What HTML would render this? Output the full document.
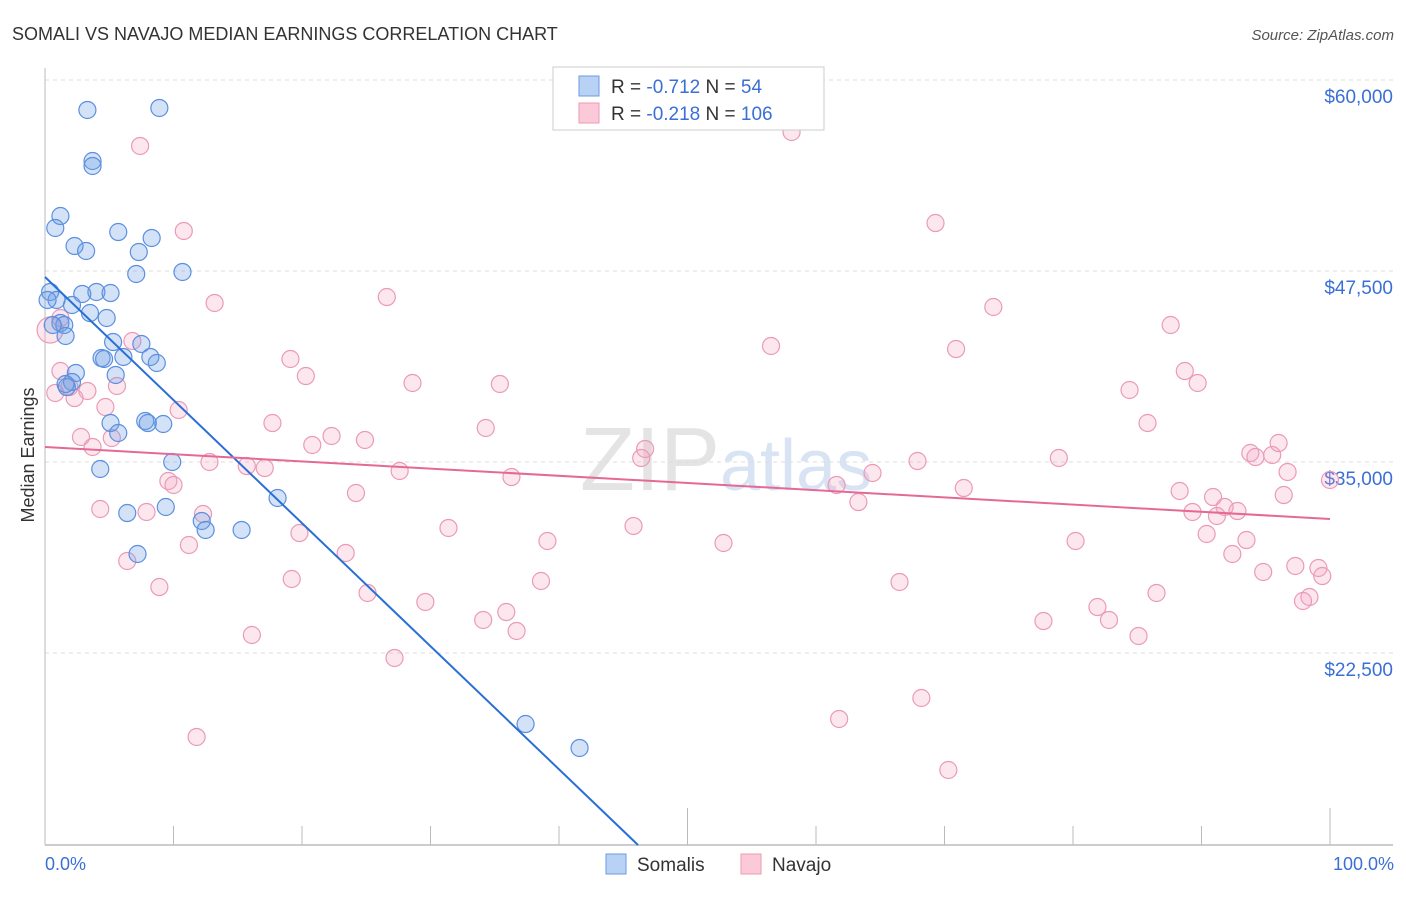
<!DOCTYPE html>
<html><head><meta charset="utf-8"><style>
body{margin:0;background:#fff;font-family:"Liberation Sans",sans-serif;}
svg text{font-family:"Liberation Sans",sans-serif;}
</style></head><body>
<svg id="c" width="1406" height="892" xmlns="http://www.w3.org/2000/svg">
<text x="12" y="40" font-size="18" fill="#333">SOMALI VS NAVAJO MEDIAN EARNINGS CORRELATION CHART</text>
<text x="1394" y="40" font-size="15" fill="#555" font-style="italic" text-anchor="end">Source: ZipAtlas.com</text>
<text x="720" y="490" font-size="90" fill="#e4e4e4" text-anchor="end" font-family="Liberation Serif">ZIP</text>
<text x="720" y="490" font-size="72" fill="#d8e3f3">atlas</text>
<g id="grid"></g><g id="axes"></g><g id="pts"></g><g id="trend"></g>
<text transform="translate(34,455) rotate(-90)" font-size="18" fill="#333" text-anchor="middle">Median Earnings</text>
<text x="45" y="870" font-size="18" fill="#3a6fd6">0.0%</text>
<text x="1394" y="870" font-size="18" fill="#3a6fd6" text-anchor="end">100.0%</text>
<g>
<rect x="553" y="67" width="271" height="63" fill="#fff" stroke="#ccc"/>
<rect x="579" y="76" width="20" height="20" fill="#b8d2f5" stroke="#6b9be0"/>
<rect x="579" y="103" width="20" height="20" fill="#fbc9d8" stroke="#ee9ab5"/>
<text x="611" y="93" font-size="19" fill="#333">R = <tspan fill="#3a6fd6">-0.712</tspan>   N = <tspan fill="#3a6fd6">  54</tspan></text>
<text x="611" y="120" font-size="19" fill="#333">R = <tspan fill="#3a6fd6">-0.218</tspan>   N = <tspan fill="#3a6fd6">106</tspan></text>
</g>
<g>
<rect x="606" y="854" width="20" height="20" fill="#b8d2f5" stroke="#6b9be0"/>
<text x="637" y="871" font-size="19" fill="#333">Somalis</text>
<rect x="741" y="854" width="20" height="20" fill="#fbc9d8" stroke="#ee9ab5"/>
<text x="772" y="871" font-size="19" fill="#333">Navajo</text>
</g>
</svg>
<script>
const yTicks=[60000,47500,35000,22500];
const yTickLabels=["$60,000","$47,500","$35,000","$22,500"];
const xTicks=[0,10,20,30,40,50,60,70,80,90,100];
const somaliPx=[[87,110],[160,108],[93,161],[92,166],[60,216],[55,228],[118,232],[152,238],[74,246],[86,251],[139,252],[136,274],[182,272],[50,292],[97,292],[82,294],[110,293],[57,300],[72,305],[90,313],[107,318],[60,323],[64,325],[66,336],[113,342],[142,344],[102,358],[123,357],[150,357],[104,359],[157,363],[76,373],[116,375],[72,382],[67,387],[110,423],[145,421],[163,424],[148,423],[118,433],[100,469],[172,462],[127,513],[166,507],[278,498],[202,521],[205,530],[241,530],[138,554],[526,724],[580,748],[66,384],[48,300],[53,325]];
const navajoPx=[[140,146],[792,132],[936,223],[184,231],[215,303],[993,307],[387,297],[1171,325],[956,349],[771,346],[50,330],[290,359],[306,376],[413,383],[500,384],[1185,371],[1198,383],[1130,390],[60,371],[55,393],[87,391],[117,386],[70,387],[75,398],[105,407],[178,410],[132,341],[60,318],[1148,423],[273,423],[486,428],[81,437],[93,447],[112,438],[312,445],[331,436],[365,440],[1250,453],[1255,457],[1272,455],[1278,443],[1288,472],[645,449],[641,458],[917,461],[873,473],[247,466],[265,468],[209,462],[400,471],[511,477],[837,485],[859,502],[964,488],[356,493],[1059,458],[1180,491],[1330,480],[1213,497],[1225,507],[1284,495],[1238,511],[1192,512],[1217,516],[168,481],[173,485],[100,509],[147,512],[203,514],[633,526],[449,528],[299,533],[1206,534],[1246,540],[1075,541],[548,541],[724,543],[189,545],[346,553],[1232,554],[127,561],[1295,566],[1318,568],[1322,576],[1263,572],[159,587],[292,579],[541,581],[900,582],[368,593],[1156,593],[425,602],[1310,597],[1303,601],[506,612],[1098,607],[483,620],[1109,620],[1044,621],[516,631],[1138,636],[252,635],[395,658],[921,698],[839,719],[197,737],[948,770]];
// convert reading positions to data values (percent, dollars)
const somaliX=somaliPx.map(p=>+((p[0]-45)/12.85).toFixed(1));
const somaliY=somaliPx.map(p=>Math.round(60000-(p[1]-80)*12500/191));
const navajoX=navajoPx.map(p=>+((p[0]-45)/12.85).toFixed(1));
const navajoY=navajoPx.map(p=>Math.round(60000-(p[1]-80)*12500/191));
const somaliTrend=[[0,47108],[46.15,9934]];
const navajoTrend=[[0,35982],[100,31270]];

const X=v=>45+v*12.85;
const Y=v=>80+(60000-v)*191/12500;
const NS="http://www.w3.org/2000/svg";
function mk(tag,attrs,parent){const e=document.createElementNS(NS,tag);for(const k in attrs)e.setAttribute(k,attrs[k]);document.getElementById(parent).appendChild(e);return e;}
yTicks.forEach((t,i)=>{
 const l=mk('line',{x1:45,x2:1393,y1:Y(t),y2:Y(t),stroke:'#ddd','stroke-dasharray':'4,4'},'grid');
 
 
 const tx=mk('text',{x:1393,y:Y(t)+23,'font-size':19,fill:'#3a6fd6','text-anchor':'end'},'grid');
 tx.textContent=yTickLabels[i];
 
 
});
const ax=mk('line',{x1:45,x2:1393,y1:845,y2:845,stroke:'#bbb','stroke-width':1.5},'axes');


const ay=mk('line',{x1:45,x2:45,y1:68,y2:845,stroke:'#bbb'},'axes');


xTicks.forEach(t=>{
 const tall=(t===50||t===100);
 const l=mk('line',{x1:X(t),x2:X(t),y1:tall?808:826,y2:845,stroke:'#bbb'},'axes');
 
 
});
navajoX.forEach((x,i)=>{
 const c=mk('circle',{cx:X(x),cy:Y(navajoY[i]),r:(i===10?13:8.5),fill:'rgba(245,160,190,0.25)',stroke:'#eb9ab6','stroke-width':1.2},'pts');
 
 
});
somaliX.forEach((x,i)=>{
 const c=mk('circle',{cx:X(x),cy:Y(somaliY[i]),r:8.5,fill:'rgba(110,160,230,0.3)',stroke:'#5b8fe0','stroke-width':1.2},'pts');
 
 
});
const t1=mk('line',{x1:X(somaliTrend[0][0]),y1:Y(somaliTrend[0][1]),x2:X(somaliTrend[1][0]),y2:Y(somaliTrend[1][1]),stroke:'#2a6fd6','stroke-width':2},'trend');


const t2=mk('line',{x1:X(navajoTrend[0][0]),y1:Y(navajoTrend[0][1]),x2:X(navajoTrend[1][0]),y2:Y(navajoTrend[1][1]),stroke:'#e46a95','stroke-width':2},'trend');


</script>
</body></html>
